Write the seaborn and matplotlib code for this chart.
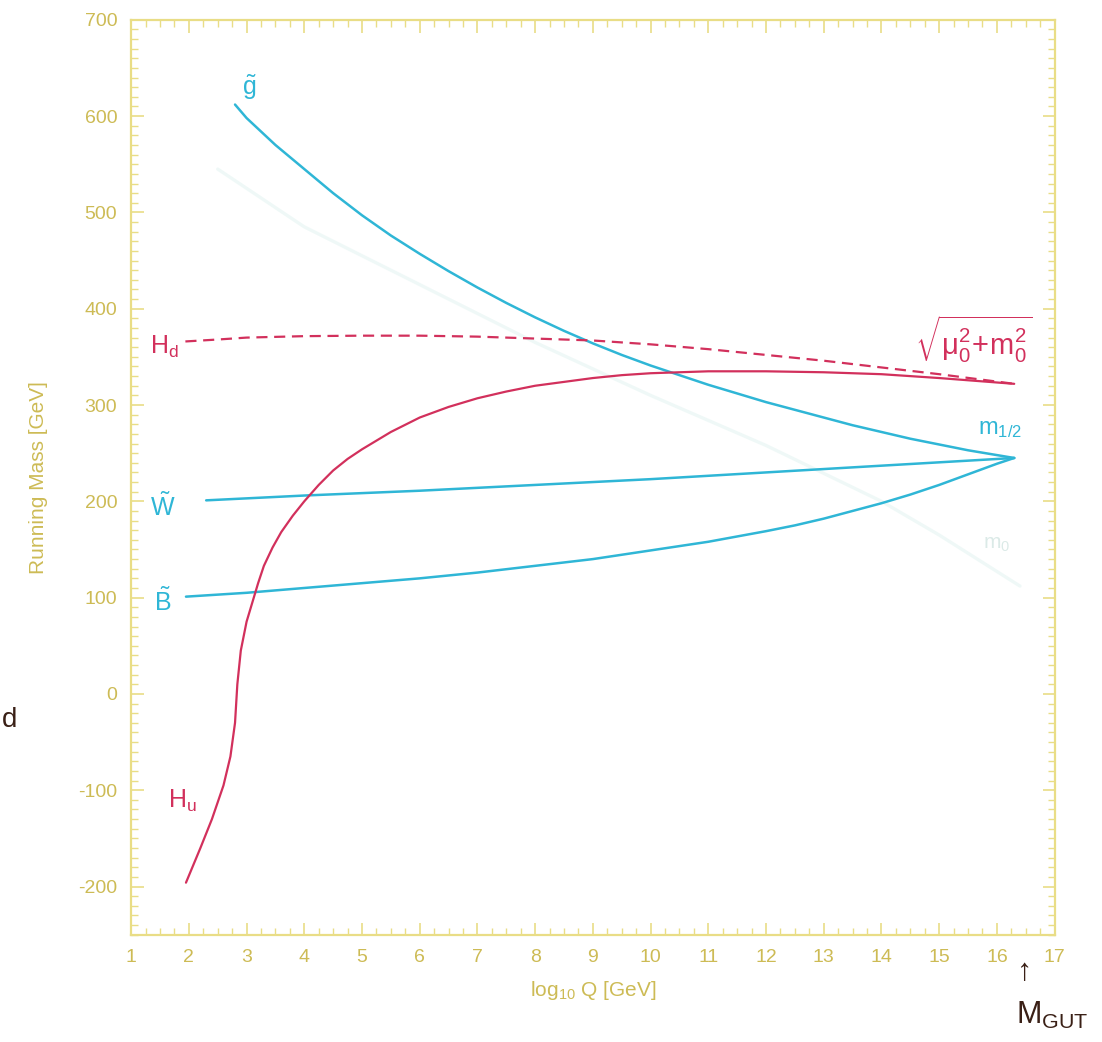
import numpy as np
import pandas as pd
import matplotlib
matplotlib.use("Agg")
import matplotlib.pyplot as plt
import seaborn as sns

# Renormalisation-group running of soft masses, log10(Q/GeV) vs mass
gluino_t = [2.8, 3.0, 3.5, 4.0, 4.5, 5.0, 5.5, 6.0, 6.5, 7.0, 7.5, 8.0, 8.5, 9.0, 9.5,
            10.0, 10.5, 11.0, 11.5, 12.0, 12.5, 13.0, 13.5, 14.0, 14.5, 15.0, 15.5, 16.0, 16.3]
gluino_m = [612, 598, 570, 545, 520, 497, 476, 457, 439, 422, 406, 391, 377, 364, 352,
            341, 331, 321, 312, 303, 295, 287, 279, 272, 265, 259, 253, 248, 245]

wino_t = [2.3, 4, 6, 8, 10, 12, 14, 16.3]
wino_m = [201, 206, 211, 217, 223, 230, 237, 245]

bino_t = [1.95, 3, 4, 5, 6, 7, 8, 9, 10, 11, 12, 12.5, 13, 13.5, 14, 14.5, 15, 15.5, 16, 16.3]
bino_m = [101, 105, 110, 115, 120, 126, 133, 140, 149, 158, 169, 175, 182, 190, 198, 207,
          217, 228, 239, 245]

hd_t = [1.94, 2.5, 3, 4, 5, 6, 7, 8, 9, 10, 11, 12, 13, 14, 15, 16.3]
hd_m = [366, 368, 370, 371.5, 372, 372, 371, 369, 367, 363, 358, 352, 346, 339, 332, 322]

hu_t = [1.95, 2.2, 2.4, 2.6, 2.72, 2.8, 2.84, 2.9, 3.0, 3.1, 3.2, 3.3, 3.45, 3.6, 3.8,
        4.0, 4.25, 4.5, 4.75, 5.0, 5.5, 6.0, 6.5, 7.0, 7.5, 8.0, 8.5, 9.0, 9.5, 10.0,
        11.0, 12.0, 13.0, 14.0, 15.0, 16.3]
hu_m = [-196, -160, -130, -95, -65, -30, 10, 45, 75, 95, 115, 133, 152, 168, 185,
        200, 217, 232, 244, 254, 272, 287, 298, 307, 314, 320, 324, 328, 331, 333,
        335, 335, 334, 332, 328, 322]

# faint scalar-mass curve running down to m0
scalar_t = [2.5, 4, 6, 8, 10, 12, 14, 15, 16.4]
scalar_m = [545, 485, 425, 365, 310, 258, 200, 165, 112]

x_ticks = list(range(1, 18))
y_ticks = list(range(-200, 701, 100))

CYAN = "#2fb6d6"
RED = "#d2305c"
FRAME = "#e9dd86"
TICKTXT = "#cdbb55"
INK = "#3a2016"

sns.set_style("ticks")
plt.rcParams["font.family"] = ["Liberation Sans", "DejaVu Sans"]
plt.rcParams["mathtext.fontset"] = "custom"
plt.rcParams["mathtext.rm"] = "Liberation Sans"
plt.rcParams["mathtext.it"] = "Liberation Sans:italic"
plt.rcParams["axes.unicode_minus"] = False

fig = plt.figure(figsize=(11.02, 10.42), dpi=100)
ax = fig.add_axes([0.119, 0.103, 0.838, 0.878])


def frame(t, m, name):
    return pd.DataFrame({"t": t, "m": m, "curve": name})


sns.lineplot(data=frame(scalar_t, scalar_m, "m0"), x="t", y="m", ax=ax,
             color="#a8dcd4", lw=2.4, alpha=0.18, sort=False)
for t, m in [(gluino_t, gluino_m), (wino_t, wino_m), (bino_t, bino_m)]:
    sns.lineplot(data=frame(t, m, "gaugino"), x="t", y="m", ax=ax,
                 color=CYAN, lw=1.8, sort=False)
sns.lineplot(data=frame(hu_t, hu_m, "Hu"), x="t", y="m", ax=ax,
             color=RED, lw=1.6, sort=False)
sns.lineplot(data=frame(hd_t, hd_m, "Hd"), x="t", y="m", ax=ax,
             color=RED, lw=1.6, sort=False, linestyle=(0, (5, 3)))

ax.set_xlim(1, 17)
ax.set_ylim(-250, 700)
ax.set_xticks(x_ticks)
ax.set_yticks(y_ticks)
ax.set_xticks(np.arange(1, 17.01, 0.25), minor=True)
ax.set_yticks(np.arange(-250, 700.1, 10), minor=True)

for s in ax.spines.values():
    s.set_visible(True)
    s.set_color(FRAME)
    s.set_linewidth(1.6)
ax.tick_params(which="both", direction="in", top=True, right=True,
               color=FRAME, labelcolor=TICKTXT, labelsize=14)
ax.tick_params(which="major", length=9, width=1.2, pad=10)
ax.tick_params(which="minor", length=5, width=1.0)

ax.set_xlabel(r"log$_{10}$ Q [GeV]", color=TICKTXT, fontsize=15, labelpad=10)
ax.set_ylabel("Running Mass [GeV]", color=TICKTXT, fontsize=15, labelpad=22)

# curve labels
ax.text(3.06, 630, r"$\tilde{\mathrm{g}}$", color=CYAN, fontsize=18, ha="center", va="center")
ax.text(1.58, 360, r"$\mathrm{H_d}$", color=RED, fontsize=18, ha="center", va="center")
ax.text(1.55, 194, r"$\tilde{\mathrm{W}}$", color=CYAN, fontsize=18, ha="center", va="center")
ax.text(1.55, 96, r"$\tilde{\mathrm{B}}$", color=CYAN, fontsize=18, ha="center", va="center")
ax.text(1.88, -111, r"$\mathrm{H_u}$", color=RED, fontsize=18, ha="center", va="center")
ax.text(15.6, 368, r"$\sqrt{\mathrm{\mu_0^2\!+\!m_0^2}}$", color=RED, fontsize=21,
        ha="center", va="center")
ax.text(16.05, 275, r"$\mathrm{m_{1/2}}$", color=CYAN, fontsize=17, ha="center", va="center")
ax.text(16.0, 155, r"$\mathrm{m_0}$", color="#c4dcd8", fontsize=15, ha="center", va="center",
        alpha=0.6)

# handwritten marks
fig.text(1025 / 1102, 1 - 972 / 1042, "↑", color=INK, fontsize=22, ha="center", va="center")
fig.text(1052 / 1102, 1 - 1015 / 1042, r"M$_{\mathrm{GUT}}$", color=INK, fontsize=22,
         ha="center", va="center")
fig.text(0.002, 1 - 720 / 1042, "d", color=INK, fontsize=20, ha="left", va="center")

fig.savefig("out.png", dpi=100, facecolor="white")
